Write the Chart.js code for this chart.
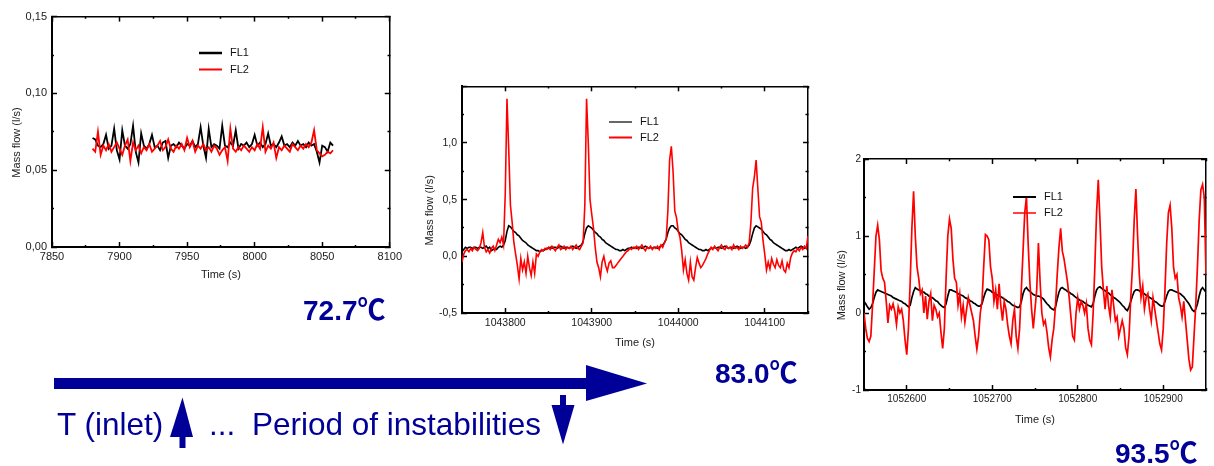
<!DOCTYPE html>
<html>
<head>
<meta charset="utf-8">
<title>Mass flow FL1 / FL2 at three inlet temperatures</title>
<script src="https://cdn.jsdelivr.net/npm/chart.js@4.4.1/dist/chart.umd.min.js"></script>
<style>
  html, body { margin: 0; padding: 0; background: #fff; }
  #page { position: relative; width: 1214px; height: 466px; overflow: hidden;
          font-family: "Liberation Sans", Arial, sans-serif; }
  #page canvas { position: absolute; }
  .temp { position: absolute; font-weight: bold; font-size: 28px; line-height: 28px; color: #000099;
          white-space: nowrap; font-family: "Liberation Sans", Arial, "Noto Sans CJK SC", sans-serif; }
  .note { position: absolute; font-size: 31.5px; line-height: 31px; color: #000099; white-space: nowrap; }
  #arrows { position: absolute; left: 0; top: 0; }
</style>
</head>
<body>
<div id="page">
  <canvas id="c1" width="410" height="290" style="left:0;top:0"></canvas>
  <canvas id="c2" width="410" height="300" style="left:410px;top:70px"></canvas>
  <canvas id="c3" width="394" height="300" style="left:820px;top:140px"></canvas>

  <svg id="arrows" width="1214" height="466">
    <g fill="#000099">
      <rect x="54" y="378" width="534" height="11"/>
      <polygon points="586,365 647,383.5 586,401"/>
      <rect x="179.5" y="435" width="6" height="13"/>
      <polygon points="182.5,397.5 193,437 170,437"/>
      <rect x="560" y="395" width="6" height="11"/>
      <polygon points="551.5,405 574.5,405 563,444.5"/>
    </g>
  </svg>

  <div class="temp" style="left:303px;top:297px">72.7℃</div>
  <div class="temp" style="left:715px;top:360px">83.0℃</div>
  <div class="temp" style="left:1115px;top:440px">93.5℃</div>

  <div class="note" style="left:57px;top:409px">T (inlet)</div>
  <div class="note" style="left:209px;top:409px">...</div>
  <div class="note" style="left:252px;top:409px">Period of instabilities</div>
</div>

<script>
// ---- 72.7 °C run : sampled every 2 s from 7880 s
const lowStart = 7880;
const lowStep = 2;
const lowFL1 = [
  0.071, 0.070, 0.066, 0.065, 0.067, 0.073, 0.064, 0.066, 0.077, 0.063,
  0.057, 0.076, 0.066, 0.064, 0.067, 0.079, 0.062, 0.055, 0.074, 0.066,
  0.064, 0.067, 0.073, 0.065, 0.066, 0.063, 0.068, 0.069, 0.058, 0.066,
  0.067, 0.065, 0.068, 0.066, 0.064, 0.067, 0.066, 0.069, 0.065, 0.067,
  0.078, 0.066, 0.058, 0.077, 0.065, 0.067, 0.066, 0.064, 0.079, 0.066,
  0.065, 0.068, 0.066, 0.076, 0.064, 0.067, 0.066, 0.068, 0.065, 0.067,
  0.073, 0.066, 0.068, 0.065, 0.067, 0.074, 0.066, 0.067, 0.065, 0.068,
  0.072, 0.066, 0.067, 0.065, 0.068, 0.066, 0.069, 0.066, 0.067, 0.065,
  0.068, 0.066, 0.067, 0.062, 0.055, 0.066, 0.065, 0.062, 0.068, 0.066
];
const lowFL2 = [
  0.064, 0.062, 0.075, 0.060, 0.066, 0.063, 0.067, 0.062, 0.065, 0.068,
  0.064, 0.060, 0.066, 0.070, 0.056, 0.068, 0.063, 0.066, 0.061, 0.065,
  0.063, 0.067, 0.062, 0.064, 0.066, 0.069, 0.063, 0.065, 0.070, 0.064,
  0.062, 0.066, 0.064, 0.067, 0.063, 0.071, 0.065, 0.069, 0.062, 0.066,
  0.064, 0.067, 0.063, 0.065, 0.062, 0.066, 0.064, 0.060, 0.063, 0.065,
  0.056, 0.077, 0.064, 0.062, 0.065, 0.063, 0.066, 0.064, 0.062, 0.065,
  0.063, 0.067, 0.064, 0.078, 0.062, 0.066, 0.064, 0.068, 0.058, 0.065,
  0.063, 0.066, 0.064, 0.062, 0.067, 0.065, 0.063, 0.066, 0.064, 0.067,
  0.065, 0.068, 0.076, 0.063, 0.061, 0.059, 0.060, 0.062, 0.061, 0.063
];

// ---- 83.0 °C run : sampled every 2 s from 1043750 s
const midStart = 1043750;
const midStep = 2;
const midFL1 = [
  0.04, 0.06, 0.08, 0.07, 0.08, 0.08, 0.07, 0.08, 0.08, 0.07,
  0.08, 0.08, 0.07, 0.08, 0.09, 0.07, 0.08, 0.05, 0.06, 0.07,
  0.06, 0.08, 0.09, 0.08, 0.10, 0.14, 0.22, 0.27, 0.26, 0.24,
  0.22, 0.21, 0.19, 0.18, 0.16, 0.14, 0.13, 0.12, 0.10, 0.09,
  0.08, 0.07, 0.06, 0.05, 0.05, 0.04, 0.05, 0.05, 0.06, 0.07,
  0.07, 0.08, 0.07, 0.08, 0.08, 0.07, 0.08, 0.09, 0.08, 0.07,
  0.08, 0.08, 0.07, 0.08, 0.09, 0.08, 0.07, 0.08, 0.09, 0.10,
  0.13, 0.20, 0.25, 0.27, 0.26, 0.25, 0.23, 0.21, 0.20, 0.18,
  0.17, 0.15, 0.14, 0.12, 0.11, 0.10, 0.09, 0.08, 0.07, 0.06,
  0.06, 0.05, 0.05, 0.06, 0.05, 0.06, 0.07, 0.07, 0.08, 0.07,
  0.08, 0.07, 0.08, 0.08, 0.07, 0.08, 0.09, 0.08, 0.07, 0.08,
  0.07, 0.08, 0.08, 0.07, 0.08, 0.09, 0.10, 0.12, 0.15, 0.21,
  0.25, 0.27, 0.27, 0.25, 0.24, 0.22, 0.20, 0.19, 0.17, 0.15,
  0.14, 0.12, 0.11, 0.10, 0.09, 0.08, 0.07, 0.06, 0.06, 0.05,
  0.05, 0.06, 0.05, 0.06, 0.07, 0.07, 0.08, 0.07, 0.08, 0.08,
  0.07, 0.08, 0.09, 0.08, 0.07, 0.08, 0.08, 0.07, 0.08, 0.09,
  0.08, 0.07, 0.08, 0.08, 0.07, 0.08, 0.10, 0.14, 0.20, 0.25,
  0.27, 0.26, 0.25, 0.24, 0.22, 0.20, 0.19, 0.17, 0.15, 0.14,
  0.12, 0.11, 0.10, 0.09, 0.08, 0.07, 0.06, 0.05, 0.05, 0.06,
  0.05, 0.06, 0.07, 0.08, 0.07, 0.08, 0.09, 0.08, 0.07, 0.08, 0.08
];
const midFL2 = [
  -0.05, 0.02, 0.05, 0.06, 0.04, 0.07, 0.05, 0.08, 0.06, 0.05,
  0.07, 0.12, 0.21, 0.08, 0.04, 0.06, 0.03, 0.07, 0.09, 0.05,
  0.10, 0.15, 0.12, 0.17, 0.10, 0.55, 1.39, 0.95, 0.45, 0.30,
  0.12, 0.02, -0.08, -0.20, -0.02, -0.12, -0.05, -0.15, 0.00, -0.10,
  -0.17, -0.05, -0.15, 0.02, 0.00, 0.04, 0.06, 0.05, 0.07, 0.06,
  0.08, 0.06, 0.09, 0.07, 0.05, 0.08, 0.10, 0.06, 0.07, 0.09,
  0.06, 0.08, 0.07, 0.09, 0.06, 0.08, 0.10, 0.07, 0.06, 0.09,
  0.12, 0.45, 1.39, 1.00, 0.50, 0.37, 0.25, 0.08, -0.05, -0.10,
  -0.18, -0.05, 0.00, -0.08, -0.13, -0.06, -0.04, -0.10, -0.10, -0.08,
  -0.06, -0.04, -0.02, 0.00, 0.02, 0.04, 0.05, 0.07, 0.06, 0.08,
  0.07, 0.09, 0.06, 0.08, 0.10, 0.07, 0.05, 0.08, 0.07, 0.09,
  0.06, 0.08, 0.07, 0.09, 0.06, 0.10, 0.08, 0.12, 0.15, 0.40,
  0.85, 0.97, 0.75, 0.40, 0.34, 0.22, 0.17, 0.05, -0.12, -0.03,
  -0.15, -0.21, -0.05, -0.18, -0.21, -0.10, -0.01, -0.06, -0.10, -0.08,
  -0.05, -0.02, 0.02, 0.05, 0.08, 0.06, 0.09, 0.07, 0.05, 0.08,
  0.10, 0.07, 0.06, 0.09, 0.07, 0.08, 0.06, 0.10, 0.07, 0.08,
  0.06, 0.09, 0.07, 0.08, 0.10, 0.08, 0.12, 0.30, 0.60, 0.70,
  0.85, 0.60, 0.35, 0.30, 0.14, 0.02, -0.12, -0.05, -0.11, -0.02,
  -0.07, -0.10, -0.03, -0.08, -0.10, -0.04, -0.12, -0.14, -0.06, -0.10,
  -0.01, 0.03, 0.05, 0.04, 0.07, 0.05, 0.08, 0.06, 0.09, 0.07, 0.18
];

// ---- 93.5 °C run : sampled every 2 s from 1052550 s
const highStart = 1052550;
const highStep = 2;
const highFL1 = [
  0.15, 0.12, 0.08, 0.05, 0.07, 0.12, 0.20, 0.27, 0.30, 0.29,
  0.28, 0.27, 0.26, 0.25, 0.24, 0.23, 0.22, 0.20, 0.19, 0.18,
  0.17, 0.16, 0.15, 0.13, 0.12, 0.10, 0.08, 0.10, 0.20, 0.28,
  0.33, 0.31, 0.30, 0.29, 0.27, 0.27, 0.25, 0.24, 0.22, 0.20,
  0.20, 0.18, 0.16, 0.15, 0.12, 0.10, 0.08, 0.07, 0.12, 0.22,
  0.30, 0.30, 0.29, 0.28, 0.27, 0.25, 0.24, 0.23, 0.22, 0.20,
  0.19, 0.18, 0.16, 0.15, 0.13, 0.12, 0.10, 0.09, 0.09, 0.12,
  0.20, 0.27, 0.31, 0.30, 0.29, 0.27, 0.26, 0.25, 0.23, 0.22,
  0.21, 0.20, 0.18, 0.17, 0.15, 0.14, 0.12, 0.10, 0.09, 0.08,
  0.07, 0.08, 0.15, 0.25, 0.31, 0.33, 0.30, 0.28, 0.26, 0.24,
  0.23, 0.22, 0.22, 0.21, 0.20, 0.18, 0.15, 0.12, 0.10, 0.07,
  0.05, 0.04, 0.08, 0.18, 0.27, 0.32, 0.33, 0.31, 0.30, 0.28,
  0.27, 0.25, 0.24, 0.22, 0.20, 0.19, 0.17, 0.16, 0.15, 0.13,
  0.12, 0.10, 0.09, 0.08, 0.12, 0.22, 0.30, 0.33, 0.34, 0.32,
  0.30, 0.29, 0.27, 0.26, 0.24, 0.22, 0.20, 0.19, 0.17, 0.15,
  0.13, 0.10, 0.08, 0.05, 0.03, 0.08, 0.15, 0.22, 0.28, 0.30,
  0.30, 0.29, 0.27, 0.26, 0.25, 0.23, 0.22, 0.20, 0.19, 0.17,
  0.15, 0.14, 0.12, 0.10, 0.09, 0.09, 0.15, 0.22, 0.28, 0.30,
  0.30, 0.29, 0.28, 0.27, 0.26, 0.25, 0.23, 0.21, 0.18, 0.15,
  0.12, 0.08, 0.04, 0.02, 0.05, 0.12, 0.22, 0.30, 0.33, 0.30, 0.27
];
const highFL2 = [
  0.00, -0.20, -0.33, -0.37, -0.30, 0.10, 0.55, 1.00, 1.14, 0.95,
  0.55, 0.45, 0.40, 0.15, -0.13, 0.10, 0.05, 0.12, 0.02, -0.15,
  0.08, 0.00, 0.05, -0.10, -0.35, -0.54, -0.20, 0.40, 1.10, 1.58,
  1.00, 0.60, 0.45, 0.25, 0.30, 0.00, 0.22, -0.08, 0.15, 0.25,
  -0.10, 0.10, 0.05, -0.05, 0.00, -0.25, -0.46, -0.20, 0.45, 1.00,
  1.22, 1.10, 0.70, 0.45, 0.40, 0.10, 0.25, -0.05, 0.10, -0.12,
  0.05, 0.20, 0.10, 0.00, -0.10, -0.30, -0.47, -0.30, 0.00, 0.15,
  0.60, 1.02, 1.00, 0.95, 0.60, 0.45, 0.15, 0.30, 0.05, 0.38,
  0.10, -0.10, 0.15, 0.05, -0.15, -0.30, -0.40, -0.10, 0.05, -0.30,
  -0.46, -0.20, 0.30, 0.80, 1.30, 1.51, 0.90, 0.40, 0.05, -0.20,
  0.05, 0.30, 0.91, 0.40, 0.00, -0.15, -0.10, -0.25, -0.45, -0.57,
  -0.35, -0.20, 0.10, 0.50, 0.85, 1.10, 0.80, 0.70, 0.55, 0.40,
  0.20, -0.05, -0.30, -0.35, 0.00, 0.20, 0.05, 0.15, 0.10, 0.00,
  0.12, -0.20, -0.35, -0.41, 0.00, 0.60, 1.30, 1.73, 1.20, 0.60,
  0.30, 0.05, 0.35, 0.10, -0.05, 0.30, 0.10, -0.10, -0.05, -0.30,
  -0.20, -0.10, -0.20, -0.45, -0.54, -0.30, 0.20, 0.60, 1.20, 1.61,
  1.00, 0.50, 0.20, 0.35, 0.05, 0.20, 0.25, 0.05, -0.10, 0.20,
  0.05, -0.10, -0.25, -0.40, -0.48, -0.20, 0.30, 0.90, 1.30, 1.40,
  1.10, 0.60, 0.45, 0.50, 0.20, 0.10, -0.05, 0.15, -0.10, -0.35,
  -0.60, -0.74, -0.70, -0.30, 0.10, 0.60, 1.20, 1.60, 1.67, 1.50, 0.50
];

const seriesNames = ['FL1', 'FL2'];
const seriesColors = ['#000000', '#ff0000'];
const yTitle = 'Mass flow (l/s)';
const xTitle = 'Time (s)';

// -----------------------------------------------------------------
const FONT = "'Liberation Sans', Arial, sans-serif";
Chart.defaults.font.family = FONT;

function points(start, step, vals) {
  return vals.map((v, i) => ({ x: start + i * step, y: v }));
}

function isMajor(v, major) {
  const r = v / major;
  return Math.abs(r - Math.round(r)) < 1e-6;
}

// Origin style frame: ticks pointing into the plot, short minor ticks
function frameAxis(pos, min, max, step, major, cfg) {
  const horiz = pos === 'top' || pos === 'bottom';
  const fromInside = pos === 'top' || pos === 'left';
  const bw = (pos === 'bottom' || pos === 'left') ? 2 : 1.5;
  const L = 5 + bw / 2;
  const ax = {
    type: 'linear', position: pos, min: min, max: max,
    border: { display: true, color: '#000', width: bw },
    grid: {
      drawOnChartArea: false, drawTicks: true, tickLength: -5,
      tickColor: '#000', tickWidth: 1.5,
      tickBorderDash: c => (!c.tick || isMajor(c.tick.value, major)) ? [] :
        (fromInside ? [0, L - 3, 3, 30] : [3, 30])
    },
    ticks: {
      display: !!cfg.fmt, stepSize: step, autoSkip: false, maxRotation: 0, minRotation: 0,
      padding: cfg.pad || 0, color: '#1a1a1a',
      font: { family: FONT, size: cfg.size || 10 },
      callback: v => (cfg.fmt && isMajor(v, major)) ? cfg.fmt(v) : ''
    },
    afterFit: s => { if (horiz) s.height = cfg.extent || 0; else s.width = cfg.extent || 0; }
  };
  if (cfg.title) {
    ax.title = {
      display: true, text: cfg.title, color: '#1a1a1a',
      font: { family: FONT, size: 11 },
      padding: { top: cfg.titlePad || 0, bottom: cfg.titlePad || 0 }
    };
  }
  return ax;
}

const insetLegend = {
  id: 'insetLegend',
  afterDatasetsDraw(chart, args, o) {
    const ctx = chart.ctx;
    ctx.save();
    ctx.font = '11px ' + FONT;
    ctx.textBaseline = 'middle';
    ctx.fillStyle = '#111';
    chart.data.datasets.forEach((ds, i) => {
      const y = o.y + i * o.gap;
      ctx.strokeStyle = ds.borderColor;
      ctx.lineWidth = o.widths[i];
      ctx.beginPath();
      ctx.moveTo(o.x, y);
      ctx.lineTo(o.x + 23, y);
      ctx.stroke();
      ctx.fillText(ds.label, o.x + 31, y);
    });
    ctx.restore();
  }
};

const comma2 = v => v.toFixed(2).replace('.', ',');
const comma1 = v => v.toFixed(1).replace('.', ',');
const plain = v => String(Math.round(v));

function makeChart(id, p) {
  new Chart(document.getElementById(id), {
    type: 'line',
    data: {
      datasets: [
        { label: seriesNames[0], data: points(p.start, p.step, p.fl1), borderColor: seriesColors[0],
          borderWidth: p.lw, pointRadius: 0, tension: 0, order: 1 },
        { label: seriesNames[1], data: points(p.start, p.step, p.fl2), borderColor: seriesColors[1],
          borderWidth: p.lw, pointRadius: 0, tension: 0, order: 0 }
      ]
    },
    options: {
      responsive: false, animation: false, events: [],
      layout: { padding: p.padding },
      scales: {
        x: frameAxis('bottom', p.xmin, p.xmax, p.xstep, p.xmajor,
          { fmt: plain, size: p.tickSize, pad: p.xpad, extent: p.xext, title: xTitle }),
        x2: frameAxis('top', p.xmin, p.xmax, p.xstep, p.xmajor, {}),
        y: frameAxis('left', p.ymin, p.ymax, p.ystep, p.ymajor,
          { fmt: p.yfmt, size: p.tickSize, pad: p.ypad, extent: p.yext,
            title: yTitle + '       ', titlePad: p.ytitlePad }),
        y2: frameAxis('right', p.ymin, p.ymax, p.ystep, p.ymajor, {})
      },
      plugins: {
        legend: { display: false },
        tooltip: { enabled: false },
        insetLegend: p.legend
      }
    },
    plugins: [insetLegend]
  });
}

makeChart('c1', {
  start: lowStart, step: lowStep, fl1: lowFL1, fl2: lowFL2, lw: 1.8,
  xmin: 7850, xmax: 8100, xstep: 25, xmajor: 50,
  ymin: 0, ymax: 0.15, ystep: 0.025, ymajor: 0.05, yfmt: comma2,
  tickSize: 11, xpad: 8, ypad: 10, xext: 35, yext: 52, ytitlePad: 10,
  padding: { left: 0, top: 15, right: 11, bottom: 8 },
  legend: { x: 199, y: 53, gap: 16.5, widths: [2.5, 2] }
});

makeChart('c2', {
  start: midStart, step: midStep, fl1: midFL1, fl2: midFL2, lw: 1.6,
  xmin: 1043750, xmax: 1044150, xstep: 50, xmajor: 100,
  ymin: -0.5, ymax: 1.5, ystep: 0.25, ymajor: 0.5,
  yfmt: v => v > 1.25 ? '' : comma1(v),
  tickSize: 10.5, xpad: 9, ypad: 10, xext: 37, yext: 52, ytitlePad: 13,
  padding: { left: 0, top: 13, right: 12, bottom: 20 },
  legend: { x: 199, y: 52, gap: 15.5, widths: [1.2, 2] }
});

makeChart('c3', {
  start: highStart, step: highStep, fl1: highFL1, fl2: highFL2, lw: 1.7,
  xmin: 1052550, xmax: 1052950, xstep: 50, xmajor: 100,
  ymin: -1, ymax: 2, ystep: 0.5, ymajor: 1, yfmt: plain,
  tickSize: 10, xpad: 8, ypad: 8, xext: 37, yext: 44, ytitlePad: 15,
  padding: { left: 0, top: 19, right: 3, bottom: 13 },
  legend: { x: 193, y: 57, gap: 16, widths: [2, 1.5] }
});
</script>
</body>
</html>
